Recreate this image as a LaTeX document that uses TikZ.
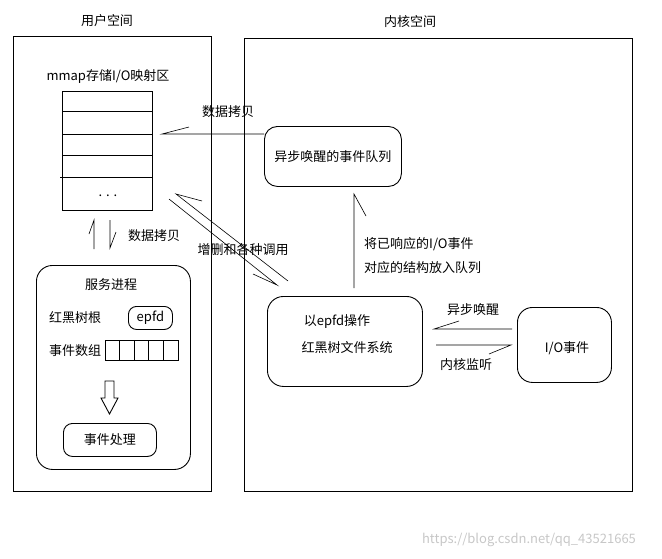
\documentclass[tikz,border=0pt]{standalone}
\usepackage{fontspec}
\newfontfamily\cjk{Noto Sans CJK SC}
\begin{document}
\begin{tikzpicture}[x=1pt,y=-1pt,
  txt/.style={font=\cjk\fontsize{13}{15}\selectfont, inner sep=0pt},
  frame/.style={draw, line width=0.9pt, inner sep=0pt, anchor=north west},
  rbox/.style={draw, line width=0.9pt, inner sep=0pt, anchor=north west, rounded corners=#1,
    font=\cjk\fontsize{13}{15}\selectfont},
  con/.style={line width=0.6pt}]
\useasboundingbox (0,0) rectangle (662,558);

% frames
\node[frame, minimum width=198pt, minimum height=455pt] (user) at (13,36) {};
\node[frame, minimum width=388pt, minimum height=453pt] (kernel) at (244,38) {};
\node[txt] (tuser) at (107,21) {用户空间};
\node[txt] (tkernel) at (410,22) {内核空间};

% mmap table
\node[txt] (tmmap) at (108,77) {mmap存储I/O映射区};
\node[frame, minimum width=90pt, minimum height=119pt] (tbl) at (62,91) {};
\draw[line width=0.9pt] (62,111) -- (152,111);
\draw[line width=0.9pt] (62,134) -- (152,134);
\draw[line width=0.9pt] (62,155) -- (152,155);
\draw[line width=0.9pt] (60,177) -- (152,177);
\node[txt] (dots) at (108,196) {. . .};

% queue
\node[rbox=13pt, minimum width=137pt, minimum height=60pt] (queue) at (264,126) {异步唤醒的事件队列};

% service process
\node[rbox=16pt, minimum width=154pt, minimum height=204pt] (svc) at (36,265) {};
\node[txt] (tsvc) at (111,285) {服务进程};
\node[txt] (troot) at (75,318) {红黑树根};
\node[rbox=8pt, minimum width=44pt, minimum height=23pt] (epfd) at (128,306) {epfd};
\node[txt] (tarr) at (75,351) {事件数组};
\node[frame, minimum width=73pt, minimum height=20pt] (arr) at (105,340) {};
\foreach \x in {119.6,134.2,148.8,163.4} \draw[line width=0.9pt] (\x,340) -- (\x,360);
\draw[line width=0.9pt] (105,381) -- (114,381) -- (114,398) -- (118,398) -- (109.5,414) -- (101,398) -- (105,398) -- cycle;
\node[rbox=9pt, minimum width=93pt, minimum height=33pt] (proc) at (63,423) {事件处理};

% epoll box
\node[rbox=16pt, minimum width=155pt, minimum height=90pt] (ep) at (267,296) {};
\node[txt] (tep1) at (337,322) {以epfd操作};
\node[txt] (tep2) at (347,348) {红黑树文件系统};

% IO box
\node[rbox=15pt, minimum width=94pt, minimum height=75pt] (io) at (517,307) {};
\node[txt] (tio) at (567,348) {I/O事件};

% connector 1: queue -> mmap
\coordinate (q1) at (264,134);
\coordinate (m1) at (162,134);
\draw[con] (q1) -- (m1) -- (189,127);
\node[txt] (l1) at (228,112) {数据拷贝};

% connector 2: mmap <-> service
\coordinate (s2a) at (94,249);
\coordinate (m2a) at (94,220);
\draw[con] (s2a) -- (m2a) -- (89,234);
\coordinate (m2b) at (110,220);
\coordinate (s2b) at (110,248);
\draw[con] (m2b) -- (s2b) -- (116,232);
\node[txt] (l2) at (154,236) {数据拷贝};

% connector 3: diagonal
\coordinate (e3a) at (288,281);
\coordinate (m3a) at (176,194);
\draw[con] (e3a) -- (m3a) -- (202,201);
\coordinate (m3b) at (169,199);
\coordinate (e3b) at (277,285);
\draw[con] (m3b) -- (e3b) -- (253,274);
\node[txt] (l3) at (243,250) {增删和各种调用};

% connector 4: ep -> queue
\coordinate (e4) at (354,288);
\coordinate (q4) at (354,194);
\draw[con] (e4) -- (q4) -- (366,216);
\node[txt, anchor=west] (l4a) at (364,244) {将已响应的I/O事件};
\node[txt, anchor=west] (l4b) at (364,268) {对应的结构放入队列};

% connector 5: io -> ep
\coordinate (i5) at (512,329);
\coordinate (e5) at (434,329);
\draw[con] (i5) -- (e5) -- (459,321);
\node[txt] (l5) at (473,310) {异步唤醒};

% connector 6: ep -> io
\coordinate (e6) at (436,345);
\coordinate (i6) at (511,345);
\draw[con] (e6) -- (i6) -- (489,354);
\node[txt] (l6) at (466,365) {内核监听};

% watermark
\node[txt, text=black!22] (wm) at (529,540) {https://blog.csdn.net/qq\_43521665};
\end{tikzpicture}
\end{document}
